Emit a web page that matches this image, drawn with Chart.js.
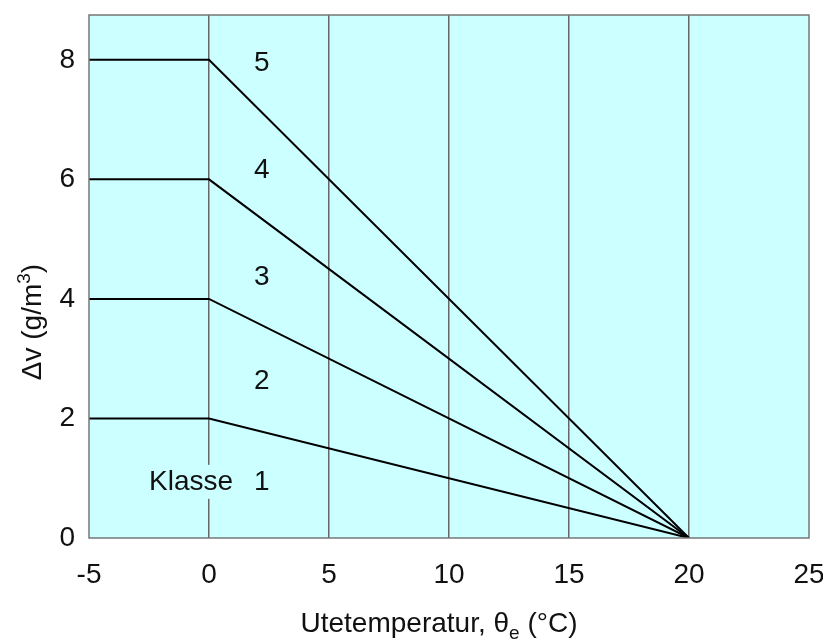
<!DOCTYPE html>
<html>
<head>
<meta charset="utf-8">
<script src="https://cdn.jsdelivr.net/npm/chart.js@4.4.1/dist/chart.umd.min.js"></script>
<style>
  html, body { margin: 0; padding: 0; background: #fff; }
  #wrap { width: 823px; height: 642px; }
</style>
</head>
<body>
<div id="wrap"><canvas id="chart" width="823" height="642"></canvas></div>
<script>
// outside temperature points (°C)
const tempPoints = [-5, 0, 20];
// humidity excess Δv per class boundary (g/m³)
const class2 = [2, 2, 0];
const class3 = [4, 4, 0];
const class4 = [6, 6, 0];
const class5 = [8, 8, 0];

const xTicks = [-5, 0, 5, 10, 15, 20, 25];
const yTicks = [0, 2, 4, 6, 8];

// class labels, placed in data units
const classLabels = ["1", "2", "3", "4", "5"];
const classLabelX = [2.2, 2.2, 2.2, 2.2, 2.2];
const classLabelY = [0.94, 2.63, 4.37, 6.16, 7.95];

const FAMILY = "'Liberation Sans', Arial, sans-serif";
const FONT = "28px " + FAMILY;
const SMALL = "19px " + FAMILY;
const BG = "#ccffff";

const toPts = (ys) => tempPoints.map((x, i) => ({ x, y: ys[i] }));

const lineStyle = {
  borderColor: "#000",
  borderWidth: 2,
  pointRadius: 0,
  fill: false,
  tension: 0,
};

const plotDecor = {
  id: "plotDecor",
  beforeDraw(chart) {
    const { ctx, chartArea: a } = chart;
    ctx.save();
    ctx.fillStyle = BG;
    ctx.fillRect(a.left, a.top, a.right - a.left, a.bottom - a.top);
    ctx.restore();
  },
  afterDraw(chart) {
    const { ctx, chartArea: a, scales } = chart;
    const xs = scales.x, ys = scales.y;
    ctx.save();
    ctx.strokeStyle = "#777";
    ctx.lineWidth = 1.5;
    ctx.strokeRect(a.left, a.top, a.right - a.left, a.bottom - a.top);

    ctx.font = FONT;
    ctx.fillStyle = "#111";
    ctx.textBaseline = "middle";
    ctx.textAlign = "center";
    classLabels.forEach((t, i) => {
      ctx.fillText(t, xs.getPixelForValue(classLabelX[i]), ys.getPixelForValue(classLabelY[i]));
    });
    // "Klasse" word with background gap over the grid line
    const kx = xs.getPixelForValue(-0.75);
    const ky = ys.getPixelForValue(classLabelY[0]);
    const kw = ctx.measureText("Klasse").width;
    ctx.fillStyle = BG;
    ctx.fillRect(kx - kw / 2 - 2, ky - 17, kw + 4, 34);
    ctx.fillStyle = "#111";
    ctx.fillText("Klasse", kx, ky);

    // x axis title with subscript
    ctx.textAlign = "left";
    ctx.textBaseline = "alphabetic";
    const p1 = "Utetemperatur, \u03b8", p2 = "e", p3 = " (\u00b0C)";
    const w1 = ctx.measureText(p1).width, w3 = ctx.measureText(p3).width;
    ctx.font = SMALL;
    const w2 = ctx.measureText(p2).width;
    let x0 = 439 - (w1 + w2 + w3) / 2;
    const by = 632;
    ctx.font = FONT;
    ctx.fillText(p1, x0, by);
    ctx.font = SMALL;
    ctx.fillText(p2, x0 + w1, by + 7);
    ctx.font = FONT;
    ctx.fillText(p3, x0 + w1 + w2, by);

    // y axis title with superscript
    ctx.translate(41, 322);
    ctx.rotate(-Math.PI / 2);
    const q1 = "\u0394v (g/m", q2 = "3", q3 = ")";
    const v1 = ctx.measureText(q1).width, v3 = ctx.measureText(q3).width;
    ctx.font = SMALL;
    const v2 = ctx.measureText(q2).width;
    x0 = -(v1 + v2 + v3) / 2;
    ctx.font = FONT;
    ctx.fillText(q1, x0, 0);
    ctx.font = SMALL;
    ctx.fillText(q2, x0 + v1, -11);
    ctx.font = FONT;
    ctx.fillText(q3, x0 + v1 + v2, 0);
    ctx.restore();
  },
};

new Chart(document.getElementById("chart"), {
  type: "line",
  data: {
    datasets: [
      { label: "2", data: toPts(class2), ...lineStyle },
      { label: "3", data: toPts(class3), ...lineStyle },
      { label: "4", data: toPts(class4), ...lineStyle },
      { label: "5", data: toPts(class5), ...lineStyle },
    ],
  },
  options: {
    responsive: false,
    animation: false,
    layout: { padding: { top: 15, right: 14, left: 0, bottom: 0 } },
    plugins: { legend: { display: false }, tooltip: { enabled: false } },
    scales: {
      x: {
        type: "linear",
        min: -5,
        max: 25,
        afterFit: (s) => { s.height = 104; s.paddingLeft = 0; s.paddingRight = 0; },
        afterBuildTicks: (s) => { s.ticks = xTicks.map((v) => ({ value: v })); },
        ticks: { font: { family: FAMILY, size: 28 }, color: "#111", padding: 20, maxRotation: 0 },
        grid: {
          drawTicks: false,
          color: (c) => (c.tick && (c.tick.value === -5 || c.tick.value === 25) ? "rgba(0,0,0,0)" : "#666"),
          lineWidth: 1.5,
        },
        border: { display: false },
      },
      y: {
        min: 0,
        max: 8.75,
        afterFit: (s) => { s.width = 89; s.paddingTop = 0; s.paddingBottom = 0; },
        afterBuildTicks: (s) => { s.ticks = yTicks.map((v) => ({ value: v })); },
        ticks: { font: { family: FAMILY, size: 28 }, color: "#111", padding: 14 },
        grid: { display: false, drawTicks: false },
        border: { display: false },
      },
    },
  },
  plugins: [plotDecor],
});
</script>
</body>
</html>
